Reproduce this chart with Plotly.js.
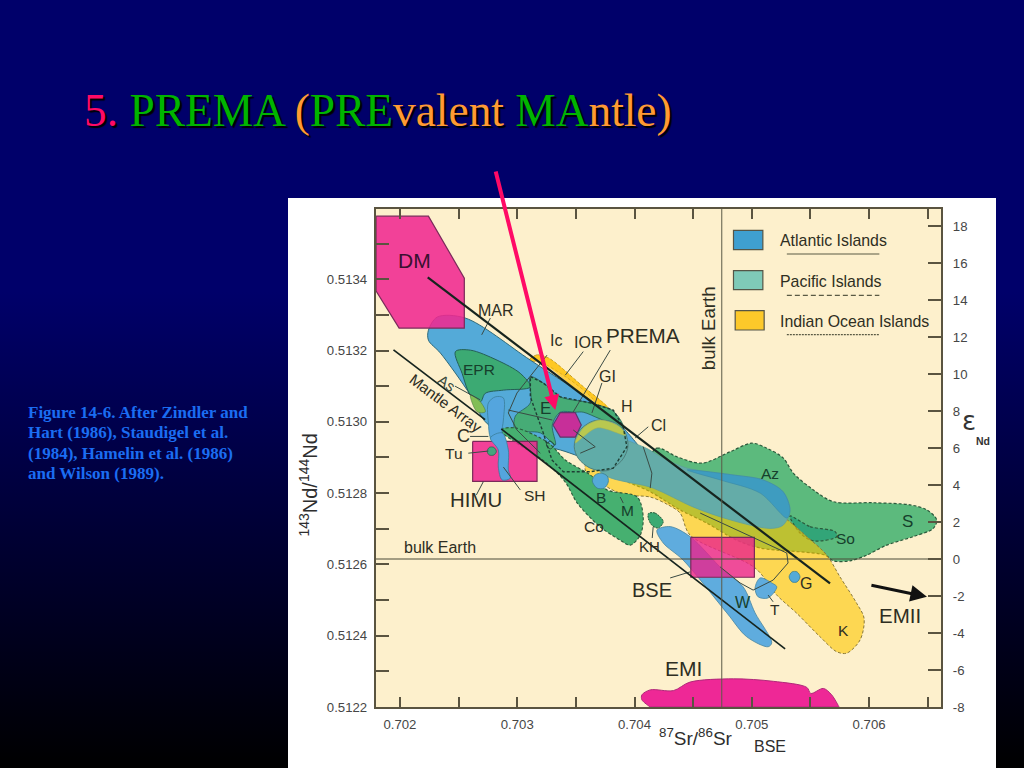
<!DOCTYPE html>
<html>
<head>
<meta charset="utf-8">
<script src="https://cdn.plot.ly/plotly-3.0.1.min.js"></script>
<style>
html,body{margin:0;padding:0;width:1024px;height:768px;overflow:hidden;background:linear-gradient(#00006a 0%,#00006a 38%,#000000 100%);}
#panel{position:absolute;left:288px;top:198px;width:708px;height:570px;background:#fff;}
#chart{position:absolute;left:0;top:0;width:1024px;height:768px;}
</style>
</head>
<body>
<div id="panel"></div>
<div id="chart"></div>
<script>
// ---- Axis values
var xTicks = [0.702,0.703,0.704,0.705,0.706];
var xTickText = ['0.702','0.703','0.704','0.705','0.706'];
var xMinor = [0.7025,0.7035,0.7045,0.7055,0.7065];
var yTicks = [0.5122,0.5124,0.5126,0.5128,0.513,0.5132,0.5134];
var yTickText = ['0.5122','0.5124','0.5126','0.5128','0.5130','0.5132','0.5134'];
var yMinor = [0.5123,0.5125,0.5127,0.5129,0.5131,0.5133,0.5135];
var eTicks = [-8,-6,-4,-2,0,2,4,6,8,10,12,14,16,18];
var eTickText = ['-8','-6','-4','-2','0','2','4','6','8','10','12','14','16','18'];

// ---- Fields: 87Sr/86Sr (x) and 143Nd/144Nd (y)
var xDM=[.701797,.702243,.702549,.702549,.701993,.701797];
var yDM=[.513577,.513577,.513403,.513263,.513263,.513367];
var xHIMU=[.70262,.703169,.703169,.70262];
var yHIMU=[.512945,.512945,.512833,.512833];
var xPREMA=[.703305,.703367,.703495,.703546,.703495,.703367];
var yPREMA=[.512991,.513026,.513026,.512991,.512957,.512957];
var xBSE=[.70448,.705022,.705022,.70448];
var yBSE=[.512676,.512676,.512564,.512564];
var xEMI=[.704063,.704134,.704332,.704474,.704843,.705184,.705469,.705503,.70561,.705681,.705744,.705744,.704134,.704134,.704063];
var yEMI=[.512234,.512248,.512246,.51227,.512279,.512272,.512255,.512238,.512252,.512234,.5122,.5122,.5122,.5122,.51222];
var xAzS=[.704049,.704191,.704361,.704574,.704815,.705,.705128,.705269,.705354,.705525,.705695,.706036,.706348,.706491,.706576,.706547,.706377,.70615,.70598,.705837,.705695,.705624,.705071,.704872,.704617,.704389,.704134,.703878];
var yAzS=[.512865,.512926,.512902,.512884,.512916,.51294,.512926,.512898,.512856,.512809,.512776,.512773,.512767,.512753,.512725,.512701,.512678,.512654,.512626,.51261,.51261,.512626,.512646,.512668,.512716,.512753,.512804,.512845];
var xSo=[.705326,.705497,.70571,.705724,.705525,.705411];
var ySo=[.512736,.512706,.512692,.512678,.512666,.512688];
var xIndian=[.703095,.703163,.703265,.703546,.703776,.703972,.70456,.705241,.705469,.705639,.705752,.705894,.705957,.705923,.705809,.705724,.705582,.705383,.705213,.705028,.704474,.704389,.704287,.704134,.703921,.703767,.70358,.703623,.703648,.703682,.703197];
var yIndian=[.513171,.513187,.513179,.513103,.513039,.512946,.512837,.512739,.512678,.512626,.512565,.512491,.512449,.512388,.512351,.512355,.512397,.512463,.512514,.51259,.512682,.512744,.512767,.512789,.512795,.512817,.512865,.512921,.512991,.513047,.513168];
var xIOR=[.703095,.703163,.703265,.703546,.703776,.703682,.703197];
var yIOR=[.513171,.513187,.513179,.513103,.513039,.513047,.513168];
var xMAR=[.702243,.702319,.702558,.703112,.703682,.703921,.704091,.703708,.703367,.703026,.702737,.702601,.702345,.702243];
var yMAR=[.513257,.513294,.513291,.513173,.513047,.512977,.512893,.512887,.512921,.512949,.512997,.513075,.513193,.513229];
var xEPR=[.702473,.702601,.702828,.703026,.703112,.702884,.702728,.702686,.702601,.70253];
var yEPR=[.513197,.513201,.513173,.513136,.513098,.513089,.51308,.513056,.513075,.513136];
var xAs=[.702601,.702686,.702728,.702658];
var yAs=[.513075,.513056,.513028,.513028];
var xE=[.703112,.703222,.703367,.703623,.703819,.703904,.703708,.703563,.703495,.703367,.703299,.703325,.703197,.702984,.702984,.703112];
var yE=[.513126,.513109,.51307,.513053,.51303,.512985,.513008,.513027,.513027,.513027,.512991,.512935,.512969,.512977,.513016,.513053];
var xCoM=[.702856,.702984,.703265,.70341,.703623,.703767,.704023,.704074,.704049,.703963,.703878,.703708,.703512,.70341,.703239];
var yCoM=[.512977,.512983,.512941,.512893,.512851,.512809,.512789,.512733,.512682,.512654,.512668,.512705,.512772,.512831,.512887];
var xDash=[.703112,.703222,.703367,.703623,.703819,.703904,.703935,.703819,.703623,.703393,.703296,.703222,.703112,.703112];
var yDash=[.513127,.513109,.51307,.513053,.513033,.512985,.51293,.51287,.51286,.51286,.512893,.512969,.51307,.513127];
var xBlob=[.703486,.70352,.703623,.703708,.703836,.703921,.703944,.703895,.703767,.703623,.70352];
var yBlob=[.51293,.512971,.512999,.513005,.512997,.512969,.51293,.512893,.512863,.51287,.512898];
var xCap=[.703495,.703563,.703708,.703878,.703921,.703682];
var yCap=[.512941,.512983,.513005,.512985,.512963,.512983];
var xBand=[.703708,.704074,.704245,.704449,.704841,.705096,.705267,.705326,.705267,.705156,.704815,.7045,.704159,.703708];
var yBand=[.51296,.51293,.512898,.51287,.512851,.512837,.512804,.512753,.51271,.512701,.512725,.512761,.512814,.51286];
var xStrip=[.704449,.704841,.705096,.705267,.705326,.705301,.705071,.70473];
var yStrip=[.512865,.512851,.512837,.512804,.512753,.51273,.5128,.512837];
var xB=[.70364,.703665,.703716,.703767,.703776,.703742,.703682];
var yB=[.512834,.512851,.512856,.512848,.512831,.512814,.512814];
var xSH=[.702754,.702813,.702882,.702882,.702871,.702924,.702924,.702941,.702871,.702839,.702839,.702771,.702754];
var ySH=[.513053,.51307,.513067,.513005,.512969,.512921,.512865,.512842,.512837,.512873,.512921,.512955,.512997];
var xW=[.704191,.704304,.704474,.704756,.704926,.705028,.70517,.705139,.704957,.704787,.704415,.704245];
var yW=[.512696,.512706,.512678,.512584,.512537,.512464,.51238,.512369,.512397,.512464,.512612,.51266];
var xT=[.705071,.70517,.705213,.705139,.705054,.705028];
var yT=[.512562,.512548,.512537,.512506,.512509,.512534];
var xG=[.705318,.705343,.705386,.705411,.705386,.705343];
var yG=[.512565,.512579,.512579,.512565,.512551,.512551];
var xKH=[.704119,.704176,.704245,.704202,.704148,.704117];
var yKH=[.512743,.512744,.51272,.512702,.51271,.51273];
var xTu=[.702744,.702762,.702801,.702822,.702801,.702762];
var yTu=[.512917,.512928,.512928,.512917,.512907,.512907];
var xDot=[.703248,.703282,.703316,.703282];
var yDot=[.512935,.512946,.512935,.512924];

// ---- Trend lines and leaders
var xMainLine=[.702237,.705667];
var yMainLine=[.513405,.512547];
var xLowLine=[.701945,.702726,null,.702864,.705284];
var yLowLine=[.513202,.513006,null,.51298,.512363];
var xThin=[.702771,.702697,null,.703254,.702998,.702924,.702998,.703197,null,.703563,.70341,null,.703793,.703478,null,.703722,.703637,null,.704117,.704006,null,.702598,.702754,null,.702583,.702754,null,.70247,.702683,null,.702882,.703026,null,.702711,.702652,null,.705139,.705182,null,.704304,.704474,null,.703878,.703904,null,.704159,.704151,null,.702924,.703299,null,.703478,.703665,.703537,null,.70456,.705298,.705309,.705182,.705011,.7049,.70473,null,.704074,.704148,.704134];
var yThin=[.513291,.513244,null,.513187,.513081,.513025,.512977,.512912,null,.513197,.513131,null,.513201,.513028,null,.513109,.513025,null,.512986,.512955,null,.512959,.512959,null,.512912,.512918,null,.5131,.513062,null,.512873,.512809,null,.512832,.512795,null,.512514,.512495,null,.512562,.512579,null,.512789,.512772,null,.512705,.512674,null,.513033,.513005,null,.512977,.51293,.512912,null,.512744,.512632,.512604,.512556,.512528,.512548,.512593,null,.51293,.512856,.512814];
var bulkEarthSr=0.704744;
var bulkEarthEps=0;

// ---- Text
var captionLines=['Figure 14-6. After Zindler and','Hart (1986), Staudigel et al.','(1984), Hamelin et al. (1986)','and Wilson (1989).'];
var legendNames=['Atlantic Islands','Pacific Islands','Indian Ocean Islands'];
var legendColors=['#3f9fd0','#7fcab8','#fdc92a'];

// ---- Page geometry
var L=375.5,T=209,W=565.5,H=498;
var px=function(v){return (v-L)/W;};
var py=function(v){return 1-(v-T)/H;};
var xRange=[0.701796,0.706613],yRange=[0.5122,0.513597],eRange=[-8,18.92];
var SANS='"Liberation Sans",Arial,sans-serif',SERIF='"Liberation Serif","Times New Roman",serif';

var traces=[];
function poly(name,xs,ys,fill,stroke,dash,w){
  traces.push({type:'scatter',mode:'lines',name:name,x:xs.concat([xs[0]]),y:ys.concat([ys[0]]),fill:'toself',fillcolor:fill,
    line:{color:stroke||fill,width:w===undefined?1:w,dash:dash||'solid',shape:'spline',smoothing:0.9},hoverinfo:'skip',showlegend:false,xaxis:'x',yaxis:'y'});
}
function sharp(name,xs,ys,fill,stroke){
  traces.push({type:'scatter',mode:'lines',name:name,x:xs.concat([xs[0]]),y:ys.concat([ys[0]]),fill:'toself',fillcolor:fill,
    line:{color:stroke,width:1.2},hoverinfo:'skip',showlegend:false,xaxis:'x',yaxis:'y'});
}
function line(name,xs,ys,color,width,dash,ax){
  traces.push({type:'scatter',mode:'lines',name:name,x:xs,y:ys,line:{color:color,width:width,dash:dash||'solid'},hoverinfo:'skip',showlegend:false,xaxis:'x',yaxis:ax||'y',connectgaps:false});
}
var DASHC='#2c5a3c';
poly('Az-S',xAzS,yAzS,'rgb(92,186,125)',DASHC,'3px,2px',1.2);
poly('So',xSo,ySo,'rgb(50,165,120)',DASHC,'3px,2px',1.2);
poly('Indian Ocean',xIndian,yIndian,'rgba(253,198,0,0.6)','#8a7a3a','3px,2px',1);
poly('IOR',xIOR,yIOR,'rgba(254,195,20,0.75)','rgba(254,195,20,0.75)',null,0.5);
poly('MAR',xMAR,yMAR,'rgb(84,170,216)','#2f6a7a',null,1);
poly('EPR',xEPR,yEPR,'rgb(60,170,115)','#245f55',null,1);
poly('As',xAs,yAs,'rgb(130,190,85)','#4d7a40',null,0.6);
poly('E',xE,yE,'rgb(70,172,118)','#245f55',null,0.8);
poly('Co-M',xCoM,yCoM,'rgb(70,176,112)',DASHC,'3px,2px',1.1);
poly('KH',xKH,yKH,'rgb(60,170,115)',DASHC,'2px,1px',1);
poly('Band',xBand,yBand,'rgb(100,172,168)','#5f9f9c',null,0.8);
poly('Strip',xStrip,yStrip,'rgb(62,156,192)','#3a8aa5',null,0.6);
poly('Blob',xBlob,yBlob,'rgb(96,172,168)','#4d7f7c',null,1);
poly('Cap',xCap,yCap,'rgb(185,200,80)','#9fae57',null,0.5);
poly('B',xB,yB,'rgb(84,170,216)','#3a7f90',null,0.8);
poly('SH',xSH,ySH,'rgb(84,165,222)','#3a7f9a',null,0.8);
poly('W',xW,yW,'rgb(95,172,222)','#4a86a0',null,0.8);
poly('T',xT,yT,'rgb(95,172,222)','#4a86a0',null,0.8);
poly('G',xG,yG,'rgb(84,170,216)','#3a7f90',null,0.8);
poly('Tu',xTu,yTu,'rgb(70,165,125)','#2a6a50',null,0.8);
sharp('DM',xDM,yDM,'rgba(240,40,145,0.88)','#7a2a5a');
sharp('HIMU',xHIMU,yHIMU,'rgba(240,40,145,0.88)','#7a2a5a');
poly('SH over HIMU',xSH.slice(4,12),ySH.slice(4,12),'rgb(84,165,222)','#3a7f9a',null,0.8);
poly('Tu over HIMU',xTu,yTu,'rgb(70,165,125)','#2a6a50',null,0.8);
sharp('PREMA',xPREMA,yPREMA,'rgba(205,40,150,0.95)','#5a3a6a');
sharp('BSE',xBSE,yBSE,'rgba(235,35,140,0.8)','#7a2a5a');
poly('EMI',xEMI,yEMI,'rgb(238,40,150)','#b02a7a',null,1);
line('Dashed field',xDash,yDash,'#1f3f35',1.4,'3px,2px');
poly('Dot',xDot,yDot,'rgba(0,0,0,0)','#1f3f35',null,0.8);
line('Leaders',xThin,yThin,'#3a4a44',1);
line('Main trend',xMainLine,yMainLine,'#16241e',2.2);
line('Lower trend',xLowLine,yLowLine,'#16241e',1.7);
line('Bulk Earth Sr',[bulkEarthSr,bulkEarthSr],yRange,'#5a5a48',1);
line('Bulk Earth Nd',xRange,[bulkEarthEps,bulkEarthEps],'#4a4a38',1,null,'y2');

function lab(text,x,y,size,color,angle,anchor,extra){
  var a={text:text,xref:'paper',yref:'paper',x:px(x),y:py(y),showarrow:false,xanchor:anchor||'center',yanchor:'middle',
    font:{family:SANS,size:size,color:color||'#2e2e22'},textangle:angle||0};
  if(extra){for(var k in extra){a[k]=extra[k];}}
  return a;
}
var G='#163f2c';
var annotations=[
 lab('DM',414,260,21,'#3a1030'),lab('MAR',496,310,16),lab('Ic',556,340,16),lab('IOR',588,342,16),
 lab('PREMA',643,335,20.7),lab('GI',607,376,16),lab('H',627,406,16),lab('Cl',658,425,16),
 lab('EPR',479,369,15.5,G),lab('As',447,383,15,'#3a4a3c',35),lab('Mantle Array',446,403,15.3,'#2c2c22',37),
 lab('E',545,408,17,G),lab('C',463,436,18),lab('Tu',454,453,15.5),lab('HIMU',476,500,20.4),lab('SH',535,495,15.5),
 lab('B',601,497,15.5,G),lab('M',627,510,15.5,G),lab('Co',594,526,15.5),lab('KH',649,546,15),
 lab('bulk Earth',440,547,16),lab('bulk Earth',708,328,18.6,null,-90),lab('BSE',652,590,20),
 lab('W',743,602,16,G),lab('T',775,609,15.5),lab('G',806,583,16),lab('K',843,630,15.5),
 lab('EMII',900,615,20.5),lab('EMI',683,668,21),lab('S',907,521,17,G),lab('So',845,538,15.5,G),lab('Az',770,473,15.5,G),
 lab(legendNames[0],778,240,15.9,null,0,'left'),lab(legendNames[1],778,281,15.9,null,0,'left'),lab(legendNames[2],778,321,15.9,null,0,'left'),
 lab('<sup>143</sup>Nd/<sup>144</sup>Nd',307,485,20,'#2e2e2e',-90),
 lab('<sup>87</sup>Sr/<sup>86</sup>Sr',696,737,19,'#2e2e2e'),lab('BSE',770,746,16,'#2e2e2e'),
 lab('ε',969,421,26,'#333',0,'center',{font:{family:'"DejaVu Sans",sans-serif',size:26,color:'#333'}}),
 lab('<b>Nd</b>',983,441,10.5,'#333')
];
captionLines.forEach(function(s,i){
  annotations.push(lab('<b>'+s+'</b>',25,412+i*20.6,17,'#1b6df2',0,'left',{font:{family:SERIF,size:17,color:'#1b6df2'}}));
});
// pink arrow to PREMA, black arrow to EMII
annotations.push({xref:'x',yref:'y',x:0.703325,y:0.513033,ax:-60,ay:-240,axref:'pixel',ayref:'pixel',text:'',showarrow:true,arrowhead:2,arrowsize:0.75,arrowwidth:4,arrowcolor:'#ff0a66'});
annotations.push({xref:'x',yref:'y',x:0.706493,y:0.512509,ax:-57,ay:-12,axref:'pixel',ayref:'pixel',text:'',showarrow:true,arrowhead:2,arrowsize:1.1,arrowwidth:3,arrowcolor:'#111'});

function rect(x0,y0,x1,y1,fill){
  return {type:'rect',xref:'paper',yref:'paper',x0:px(x0),x1:px(x1),y0:py(y0),y1:py(y1),fillcolor:fill,line:{color:'#555546',width:1.2}};
}
function rule(x0,x1,y,dash){
  return {type:'line',xref:'paper',yref:'paper',x0:px(x0),x1:px(x1),y0:py(y),y1:py(y),line:{color:'#5a5a44',width:1.2,dash:dash}};
}
var shapes=[
 rect(733.3,230.3,762.7,249.7,legendColors[0]),rect(733.3,270.7,762.7,289.7,legendColors[1]),rect(735,310.7,764,330,legendColors[2]),
 rule(786.7,879.3,254,'solid'),rule(786.7,879.3,295.3,'5px,3px'),rule(786.7,879.3,334.7,'2px,1px')
];

var P='#ff0a66',GR='#00b400',O='#ff9a33';
function c(col,s){return '<span style="color:'+col+'">'+s+'</span>';}
var titleText=c(P,'5.')+' '+c(GR,'PREMA')+' '+c(O,'(')+c(GR,'PRE')+c(O,'valent')+' '+c(GR,'MA')+c(O,'ntle)');

var TICK='#5a5440';
function minorOf(vals,len){return {tickmode:'array',tickvals:vals,ticks:'inside',ticklen:len,tickcolor:TICK,tickwidth:2,showgrid:false};}
var axisStyle={showgrid:false,zeroline:false,showline:true,linecolor:TICK,linewidth:2.2,ticks:'inside',tickcolor:TICK,tickwidth:2,
  tickfont:{family:SANS,size:13.2,color:'#464646'},tickmode:'array'};
var layout={
 width:1024,height:768,paper_bgcolor:'rgba(0,0,0,0)',plot_bgcolor:'#fdf0cc',showlegend:false,hovermode:false,
 margin:{l:L,t:T,r:1024-L-W,b:768-T-H,pad:0,autoexpand:false},
 title:{text:titleText,x:84/1024,xanchor:'left',xref:'container',y:1-110/768,yref:'container',yanchor:'middle',
   font:{family:SERIF,size:45.4,color:GR,shadow:'2px 2px 1px #000'}},
 xaxis:Object.assign({},axisStyle,{range:xRange,tickvals:xTicks,ticktext:xTickText,ticklen:10,mirror:'ticks',ticklabelstandoff:4,minor:minorOf(xMinor,10)}),
 yaxis:Object.assign({},axisStyle,{range:yRange,tickvals:yTicks,ticktext:yTickText,ticklen:13,ticklabelstandoff:4,minor:minorOf(yMinor,13)}),
 yaxis2:Object.assign({},axisStyle,{range:eRange,tickvals:eTicks,ticktext:eTickText,ticklen:13,overlaying:'y',side:'right',anchor:'x',ticklabelstandoff:7}),
 annotations:annotations,shapes:shapes
};
Plotly.newPlot('chart',traces,layout,{displayModeBar:false,staticPlot:true}).then(function(){
  document.querySelectorAll('#chart text').forEach(function(t){ if(!t.textContent.trim()){ t.parentNode.removeChild(t); } });
});
</script>
</body>
</html>
